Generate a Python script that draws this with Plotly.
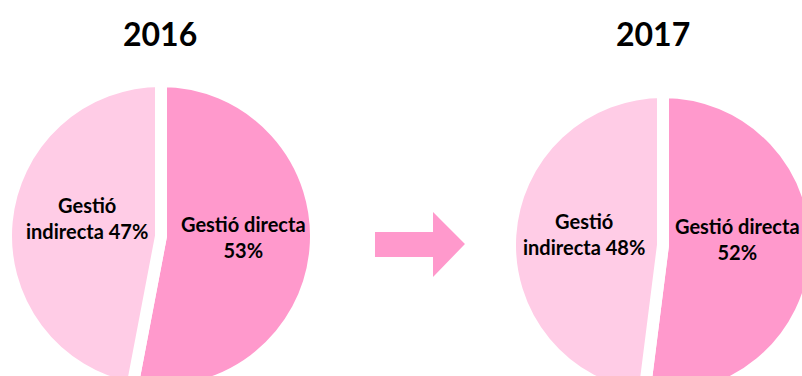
import plotly.graph_objects as go

# --- data ---
years = ["2016", "2017"]
categories = ["Gestió directa", "Gestió indirecta"]
values_2016 = [53, 47]
values_2017 = [52, 48]

colors = ["#FF99CC", "#FFCCE6"]

# figure slightly larger than the window so the pies get cut at the edges like the original
W, H = 830, 400
GAP = 12  # white line between slices


def px(x):
    return x / W


def py(y):
    return 1 - y / H


def domain(cx, cy, r):
    # center/radius in screen pixels -> paper domain
    r = r + GAP / 2
    return dict(x=[px(cx - r), px(cx + r)], y=[py(cy + r), py(cy - r)])


fig = go.Figure()
pies = [
    (years[0], values_2016, 161, 236, 149),
    (years[1], values_2017, 663, 245, 147),
]
for name, vals, cx, cy, r in pies:
    fig.add_trace(go.Pie(
        labels=categories,
        values=vals,
        name=name,
        sort=False,
        direction="clockwise",
        rotation=0,
        textinfo="none",
        hoverinfo="label+percent",
        marker=dict(colors=colors, line=dict(color="white", width=GAP)),
        domain=domain(cx, cy, r),
        showlegend=False,
    ))

font = "Lato, 'Open Sans', sans-serif"

# titles
for name, x in [(years[0], 160), (years[1], 653)]:
    fig.add_annotation(x=px(x), y=py(33), xref="paper", yref="paper",
                       xanchor="center", yanchor="middle",
                       text="<b>%s</b>" % name, showarrow=False,
                       font=dict(family=font, size=32, color="black"))

# slice labels
labels = [
    ("%s<br>%d%%" % (categories[0], values_2016[0]), 243, 237),
    ("Gestió<br>indirecta %d%%" % values_2016[1], 87, 218),
    ("%s<br>%d%%" % (categories[0], values_2017[0]), 737, 239),
    ("Gestió<br>indirecta %d%%" % values_2017[1], 584, 234),
]
for txt, x, y in labels:
    fig.add_annotation(x=px(x), y=py(y), xref="paper", yref="paper",
                       xanchor="center", yanchor="middle",
                       text="<b>%s</b>" % txt, showarrow=False, align="center",
                       font=dict(family=font, size=20, color="black"))

# arrow between the two years
ax = [375, 433, 433, 465, 433, 433, 375]
ay = [232, 232, 212, 244, 277, 257, 257]
path = "M " + " L ".join("%.4f,%.4f" % (px(x), py(y)) for x, y in zip(ax, ay)) + " Z"
fig.add_shape(type="path", path=path, xref="paper", yref="paper",
              fillcolor="#FF99CC", line=dict(width=0))

fig.update_layout(
    width=W, height=H,
    margin=dict(l=0, r=0, t=0, b=0),
    paper_bgcolor="white",
    plot_bgcolor="white",
    font=dict(family=font),
)

# no page margin / scrollbars, the oversize figure is simply cut by the window
fig.write_html(
    "out.html",
    config=dict(displayModeBar=False),
    post_script="document.body.style.margin='0';"
                "document.body.style.overflow='hidden';"
                "document.documentElement.style.overflow='hidden';",
)
